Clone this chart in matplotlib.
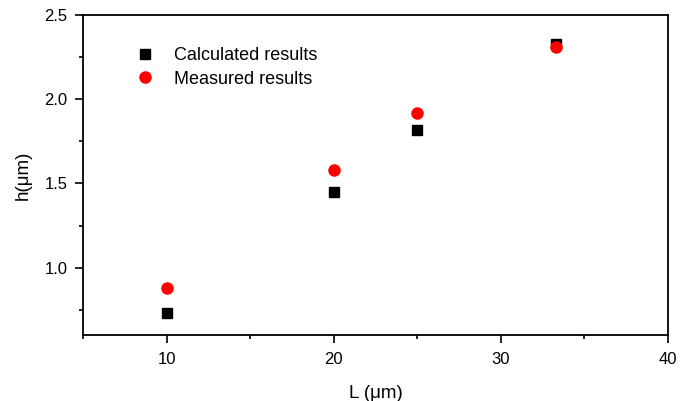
import matplotlib.pyplot as plt
from matplotlib.ticker import MultipleLocator

plt.rcParams['font.family'] = ['Liberation Sans', 'DejaVu Sans']

L = [10, 20, 25, 33.3]
h_calc = [0.73, 1.45, 1.82, 2.33]
h_meas = [0.88, 1.58, 1.92, 2.31]

fig = plt.figure(figsize=(6.92, 4.01), dpi=100)
ax = fig.add_axes([83 / 692, 1 - 335 / 401, 585 / 692, 320 / 401])

ax.plot(L, h_calc, 's', color='black', markersize=7, label='Calculated results')
ax.plot(L, h_meas, 'o', color='red', markersize=8, label='Measured results')

ax.set_xlim(5, 40)
ax.set_ylim(0.6, 2.5)
ax.xaxis.set_major_locator(MultipleLocator(10))
ax.xaxis.set_minor_locator(MultipleLocator(5))
ax.yaxis.set_major_locator(MultipleLocator(0.5))
ax.yaxis.set_minor_locator(MultipleLocator(0.25))
ax.yaxis.set_major_formatter(plt.FormatStrFormatter('%.1f'))
ax.tick_params(which='both', direction='out', top=False, right=False, width=1.2, labelsize=12)
ax.tick_params(which='major', length=6)
ax.tick_params(which='minor', length=3)
ax.tick_params(axis='x', which='major', pad=6)
ax.tick_params(axis='y', which='major', pad=5)
for s in ax.spines.values():
    s.set_linewidth(1.3)

ax.set_xlabel('L (μm)', fontsize=13.5, labelpad=13)
ax.set_ylabel('h(μm)', fontsize=13.5, labelpad=9)

ax.legend(loc='upper left', bbox_to_anchor=(0.06, 0.95), frameon=False, fontsize=13,
          handletextpad=1.0, labelspacing=0.35, handlelength=1.2)

fig.savefig('out.png', dpi=100)
